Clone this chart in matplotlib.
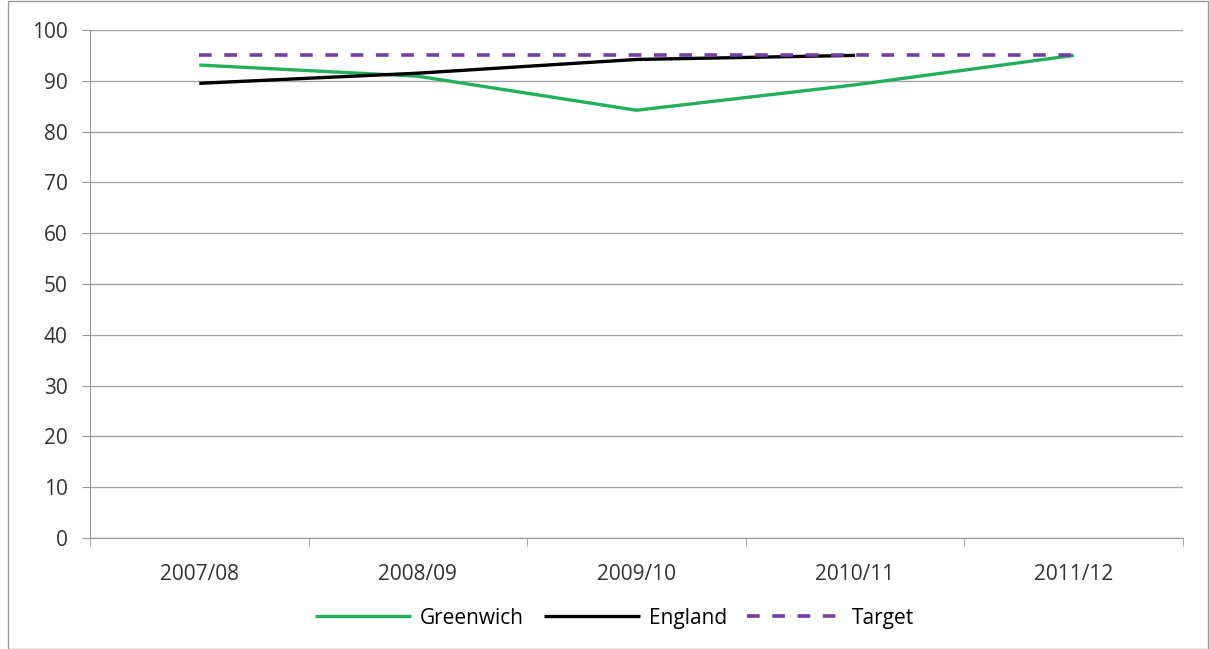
import matplotlib.pyplot as plt
import numpy as np

years = ['2007/08', '2008/09', '2009/10', '2010/11', '2011/12']
greenwich = [93.1, 90.9, 84.2, 89.2, 95.0]
england = [89.5, 91.5, 94.2, 95.0, np.nan]
target = [95, 95, 95, 95, 95]

plt.rcParams['font.family'] = ['Open Sans', 'DejaVu Sans']

fig = plt.figure(figsize=(12.09, 6.49), dpi=100)
ax = fig.add_axes([0.0744, 0.171, 0.9041, 0.7828])

x = np.arange(len(years))
ax.plot(x, greenwich, color='#22b05a', lw=2.4, label='Greenwich', solid_capstyle='butt')
ax.plot(x, england, color='black', lw=2.4, label='England', solid_capstyle='butt')
ax.plot(x, target, color='#7040a0', lw=2.6, ls=(0, (3.5, 3.5)), label='Target')

ax.set_xlim(-0.5, 4.5)
ax.set_ylim(0, 100)
ax.set_yticks(range(0, 101, 10))
ax.set_xticks(x)
ax.set_xticklabels(years)
ax.set_xticks(np.arange(-0.5, 5, 1), minor=True)
ax.tick_params(axis='x', which='major', length=0, pad=19, labelsize=15, labelcolor='#333333')
ax.tick_params(axis='x', which='minor', length=6, color='#999999', direction='out')
ax.tick_params(axis='y', length=6, color='#999999', pad=10, labelsize=15, labelcolor='#333333')
ax.yaxis.grid(True, color='#a6a6a6', lw=1)
ax.set_axisbelow(True)
for s in ['top', 'right']:
    ax.spines[s].set_visible(False)
for s in ['left', 'bottom']:
    ax.spines[s].set_color('#999999')

ax.legend(loc='center', bbox_to_anchor=(0.48, -0.158), ncol=3, frameon=False,
          fontsize=15, handlelength=4.6, columnspacing=1.0, handletextpad=0.4)

fig.patches.append(plt.Rectangle((0.007, 0.0), 0.992, 0.999, transform=fig.transFigure,
                                 fill=False, edgecolor='#9a9a9a', lw=1))

fig.savefig('out.png', dpi=100)
